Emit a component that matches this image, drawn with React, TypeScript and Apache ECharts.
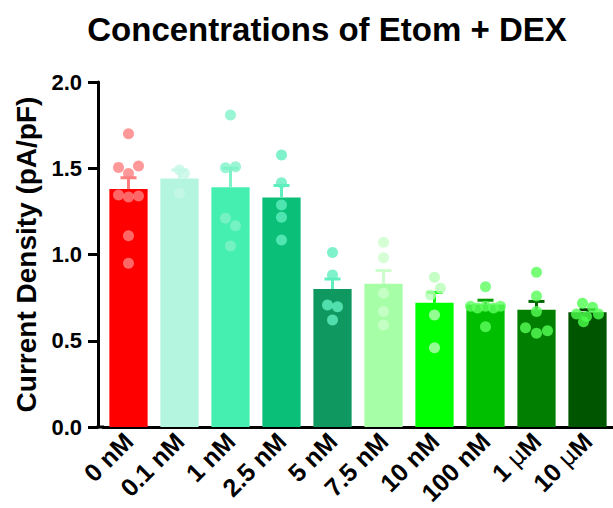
import React, { useEffect, useRef } from "react";
import * as echarts from "echarts";

const categories = ["0 nM", "0.1 nM", "1 nM", "2.5 nM", "5 nM", "7.5 nM", "10 nM", "100 nM", "1 \u03bcM", "10 \u03bcM"];
const means = [1.38, 1.44, 1.39, 1.33, 0.8, 0.83, 0.72, 0.71, 0.68, 0.665];
const sems = [0.065, 0.05, 0.11, 0.07, 0.058, 0.077, 0.06, 0.025, 0.048, 0.015];
const barColors = ["#FF0000", "#B3F5DE", "#45EFB0", "#0ABF77", "#0F9960", "#A6FFA6", "#00FF00", "#00BF00", "#007F00", "#005500"];
const dotColors = ["#FF8080", "#C6F8E6", "#7FF3C8", "#5FEFBF", "#5FEFBF", "#CCFFCC", "#B8FFB8", "#5FFF5F", "#55FF55", "#4CFF4C"];
const errColors = ["#FF8080", "#C6F8E6", "#7FF3C8", "#5FEFBF", "#5FEFBF", "#CCFFCC", "#00FF00", "#009F00", "#006600", "#004400"];

// individual points per group: values and horizontal jitter (px)
const dots0 = [1.70, 1.505, 1.513, 1.47, 1.345, 1.333, 1.339, 1.109, 0.949];
const jit0 = [0, -10, 10, 0, -10, 0, 10, 0, 0];
const dots1 = [1.49, 1.47, 1.355];
const jit1 = [0, 5, 0];
const dots2 = [1.809, 1.503, 1.509, 1.21, 1.167, 1.049];
const jit2 = [0, -5, 5, -5, 5, 0];
const dots3 = [1.577, 1.416, 1.287, 1.216, 1.084];
const jit3 = [0, 0, 0, 0, 0];
const dots4 = [1.011, 0.881, 0.707, 0.697, 0.62];
const jit4 = [0, 0, -5, 5, 0];
const dots5 = [1.071, 0.981, 0.775, 0.669, 0.591];
const jit5 = [0, 0, 0, 0, 0];
const dots6 = [0.868, 0.804, 0.765, 0.649, 0.46];
const jit6 = [0, 6, -4, 0, 0];
const dots7 = [0.813, 0.70, 0.69, 0.70, 0.69, 0.70, 0.581];
const jit7 = [0, -15, -8, 0, 8, 15, 0];
const dots8 = [0.897, 0.759, 0.669, 0.576, 0.543, 0.558];
const jit8 = [0, 0, 0, -11, 0, 11];
const dots9 = [0.717, 0.694, 0.655, 0.64, 0.655, 0.61];
const jit9 = [-5, 5, -11, -1, 11, -4];

const allDots = [dots0, dots1, dots2, dots3, dots4, dots5, dots6, dots7, dots8, dots9];
const allJit = [jit0, jit1, jit2, jit3, jit4, jit5, jit6, jit7, jit8, jit9];

const yTicks = [0, 0.5, 1.0, 1.5, 2.0];

const FONT = "'Liberation Sans', Arial, sans-serif";

export default function App() {
  const ref = useRef<HTMLDivElement>(null);
  useEffect(() => {
    if (!ref.current) return;
    const chart = echarts.init(ref.current, null, { renderer: "svg" });

    const scatterData: any[] = [];
    allDots.forEach((arr, i) => {
      arr.forEach((v, k) => {
        scatterData.push({
          value: [i, v],
          symbolOffset: [allJit[i][k], 0],
          itemStyle: { color: dotColors[i] },
        });
      });
    });

    const errData = means.map((m, i) => [i, m, m + sems[i]]);

    chart.setOption({
      animation: false,
      backgroundColor: "#ffffff",
      title: {
        text: "Concentrations of Etom + DEX",
        left: 322,
        textAlign: "center",
        top: 8,
        textStyle: { fontFamily: FONT, fontWeight: "bold", fontSize: 33, color: "#000" },
      },
      grid: { left: 103, right: 0, top: 82, bottom: 81, containLabel: false },
      xAxis: {
        type: "category",
        data: categories,
        axisLine: { lineStyle: { color: "#000", width: 3 } },
        axisTick: { alignWithLabel: true, length: 7, lineStyle: { color: "#000", width: 3 } },
        axisLabel: {
          rotate: 45,
          interval: 0,
          margin: 10,
          fontFamily: FONT,
          fontWeight: "bold",
          fontSize: 25,
          color: "#000",
          formatter: (v: string) => v.replace("\u03bc", "{mu|\u03bc}"),
          rich: {
            mu: { fontFamily: "'DejaVu Sans', sans-serif", fontWeight: "normal", fontSize: 24, color: "#000" },
          },
        },
      },
      yAxis: {
        type: "value",
        min: 0,
        max: 2,
        interval: 0.5,
        offset: 5,
        name: "Current Density (pA/pF)",
        nameLocation: "middle",
        nameGap: 58,
        nameTextStyle: { fontFamily: FONT, fontWeight: "bold", fontSize: 28, color: "#000" },
        splitLine: { show: false },
        axisLine: { show: true, lineStyle: { color: "#000", width: 3 } },
        axisTick: { show: true, length: 10, lineStyle: { color: "#000", width: 3 } },
        axisLabel: {
          margin: 16,
          fontFamily: FONT,
          fontWeight: "bold",
          fontSize: 22,
          color: "#000",
          formatter: (v: number) => (yTicks.includes(v) ? v.toFixed(1) : ""),
        },
      },
      graphic: [
        {
          type: "line",
          shape: { x1: 96.5, y1: 427, x2: 104, y2: 427 },
          style: { stroke: "#000", lineWidth: 3 },
          z: 100,
        },
      ],
      series: [
        {
          type: "bar",
          data: means.map((m, i) => ({ value: m, itemStyle: { color: barColors[i] } })),
          barCategoryGap: "25%",
          z: 1,
        },
        {
          type: "custom",
          data: errData,
          z: 2,
          renderItem: (params: any, api: any) => {
            const i = api.value(0);
            const base = api.coord([i, api.value(1)]);
            const top = api.coord([i, api.value(2)]);
            const hw = 8;
            const c = errColors[params.dataIndex];
            return {
              type: "group",
              children: [
                { type: "line", shape: { x1: base[0], y1: base[1], x2: top[0], y2: top[1] }, style: { stroke: c, lineWidth: 3 } },
                { type: "line", shape: { x1: top[0] - hw, y1: top[1], x2: top[0] + hw, y2: top[1] }, style: { stroke: c, lineWidth: 3 } },
              ],
            };
          },
        },
        {
          type: "scatter",
          data: scatterData,
          symbol: "circle",
          symbolSize: 11,
          z: 3,
        },
      ],
    });
    return () => chart.dispose();
  }, []);
  return <div ref={ref} style={{ position: "absolute", left: 0, top: 0, width: 613, height: 508 }} />;
}
